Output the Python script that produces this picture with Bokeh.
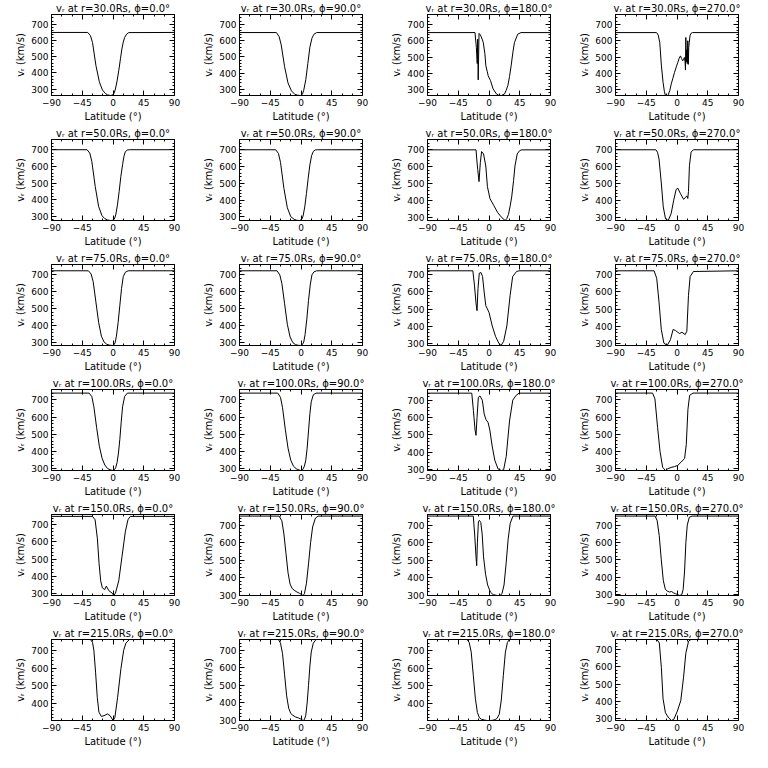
from bokeh.plotting import figure
from bokeh.layouts import gridplot
from bokeh.models import Range1d, FixedTicker, LinearAxis, CustomJSTickFormatter
from bokeh.embed import file_html
from bokeh.resources import INLINE

radii = [30.0, 50.0, 75.0, 100.0, 150.0, 215.0]
phis = [0.0, 90.0, 180.0, 270.0]
x_ticks = [-90, -45, 0, 45, 90]
y_ticks = [300, 400, 500, 600, 700]

# ---- r = 30 Rs ----
lat_30_0 = [-90, -37, -33, -30, -25, -20, -15.5, -11, -8, -4, -1, 1.5, 3.5, 6, 8.5, 11, 13, 15, 17, 20, 23, 90]
v_30_0 = [650, 650, 630, 588, 446, 345, 294, 272, 264, 260, 262, 274, 300, 350, 416, 490, 548, 590, 619, 640, 649, 650]
lat_30_90 = [-90, -36, -32, -29, -24, -19, -14, -9, -5, -1, 2, 4, 7, 10, 13, 16, 19, 23, 90]
v_30_90 = [650, 650, 625, 575, 440, 340, 292, 270, 265, 263, 270, 295, 360, 460, 560, 615, 640, 650, 650]
lat_30_180 = [-90, -20.5, -18.5, -17.2, -16.6, -15.8, -14.6, -12.5, -10, -8.4, -6, -4.6, -2.5, -1.2, 2.2, 6, 10.8, 14, 18, 22.8, 25, 27.6, 30, 32.4, 35, 37.2, 42, 46.8, 90]
v_30_180 = [650, 650, 560, 460, 610, 360, 645, 635, 610, 590, 520, 446, 410, 385, 355, 304, 274, 266, 264, 274, 295, 325, 380, 446, 530, 588, 640, 650, 650]
lat_30_270 = [-90, -30, -27.5, -25.2, -22.8, -20.4, -18.5, -17, -13.2, -10.5, -8.4, -6, -3.6, -1, 1.2, 3, 5, 6.8, 8.4, 9.6, 10.8, 11.8, 12.4, 12.9, 13.6, 14.3, 15, 15.8, 16.5, 17.2, 18, 19, 20.4, 22.8, 90]
v_30_270 = [650, 650, 635, 588, 446, 345, 290, 264, 264, 295, 335, 370, 406, 440, 467, 490, 507, 490, 477, 485, 497, 470, 420, 620, 470, 545, 460, 600, 455, 560, 590, 630, 645, 650, 650]

# ---- r = 50 Rs ----
lat_50_0 = [-90, -38, -34, -31, -26, -21, -16, -12, -8, -4, -1, 2, 4, 6.5, 9, 11.5, 14, 16, 18, 21, 24, 90]
v_50_0 = [700, 700, 680, 630, 480, 360, 305, 288, 280, 277, 278, 285, 310, 370, 450, 540, 610, 660, 688, 698, 700, 700]
lat_50_90 = [-90, -37, -33, -30, -25, -20, -15, -10, -6, -2, 1, 3, 5.5, 8, 10.5, 13, 15.5, 18, 21, 24, 90]
v_50_90 = [700, 700, 678, 625, 470, 355, 302, 286, 280, 279, 285, 305, 360, 440, 530, 610, 665, 690, 699, 700, 700]
lat_50_180 = [-90, -19, -17.8, -16.5, -14.6, -12.7, -10.8, -8, -4.7, -2.3, 1.5, 7.2, 12.8, 19, 23.7, 26, 28.5, 31, 33.2, 36, 38, 41.3, 45, 48, 90]
v_50_180 = [700, 700, 640, 584, 513, 625, 690, 676, 605, 483, 412, 371, 330, 300, 284, 295, 320, 370, 422, 520, 605, 676, 696, 700, 700]
lat_50_270 = [-90, -31, -28.5, -26.3, -23, -20.1, -16.8, -12.9, -8.6, -4.8, -1.4, 1, 4.8, 9.6, 12, 14.4, 15.8, 16.8, 18.2, 20.6, 24, 90]
v_50_270 = [700, 700, 685, 645, 503, 361, 290, 280, 320, 401, 462, 473, 442, 406, 415, 426, 411, 452, 605, 686, 700, 700]

# ---- r = 75 Rs ----
lat_75_0 = [-90, -36, -32, -29, -25, -21, -17, -13, -9, -5, -1, 1, 3, 5, 7.5, 10, 12.5, 15, 18, 22, 90]
v_75_0 = [724, 724, 705, 660, 540, 420, 340, 305, 292, 287, 285, 288, 300, 340, 420, 520, 620, 690, 715, 724, 724]
lat_75_90 = [-90, -35, -31, -28, -24, -20, -16, -12, -8, -4, 0, 2, 4, 6, 8.5, 11, 13.5, 16, 19, 23, 90]
v_75_90 = [724, 724, 700, 650, 530, 410, 335, 302, 290, 286, 285, 290, 305, 350, 440, 550, 640, 700, 718, 724, 724]
lat_75_180 = [-90, -23.6, -21.3, -18.9, -17.5, -16.1, -14.2, -11.8, -9.4, -7.1, -4.7, -2.3, 0, 4.8, 9.5, 14.3, 17.6, 21.4, 26.1, 30.9, 34.6, 40.3, 44, 90]
v_75_180 = [724, 724, 640, 530, 490, 620, 710, 714, 690, 600, 520, 500, 480, 400, 340, 300, 286, 310, 400, 580, 690, 720, 724, 724]
lat_75_270 = [-90, -33.5, -29.7, -26.3, -23, -19.2, -14.4, -9.6, -5.7, -2.4, 1, 3.8, 7.2, 12, 14.4, 16.8, 19.2, 24, 90]
v_75_270 = [724, 724, 680, 540, 380, 300, 286, 320, 380, 374, 364, 356, 364, 350, 370, 580, 690, 720, 724]

# ---- r = 100 Rs ----
lat_100_0 = [-90, -35, -31, -28, -24, -20, -16, -12, -8, -4, 0, 2, 4, 6, 8, 10, 12, 14, 17, 21, 90]
v_100_0 = [740, 740, 720, 660, 540, 430, 360, 320, 300, 292, 288, 292, 305, 335, 390, 470, 570, 660, 720, 740, 740]
lat_100_90 = [-90, -34, -30, -27, -23, -19, -15, -11, -7, -3, 0, 2.5, 5, 7, 9, 11, 13, 15, 18, 22, 90]
v_100_90 = [740, 740, 715, 655, 530, 420, 350, 315, 300, 293, 290, 295, 315, 350, 420, 520, 620, 690, 730, 740, 740]
lat_100_180 = [-90, -25.2, -22.8, -20.4, -19, -17.5, -15.6, -13.2, -9.8, -7, -4.6, -1.2, 1.2, 4.6, 8.4, 13.2, 18, 21.4, 25.2, 30, 34.8, 39.6, 44, 90]
v_100_180 = [740, 740, 640, 528, 498, 600, 716, 724, 700, 620, 590, 570, 528, 437, 356, 305, 296, 300, 377, 580, 700, 727, 740, 740]
lat_100_270 = [-90, -35.8, -32.3, -28.4, -24.9, -21, -17, -13.6, -8.6, -3.7, 1.2, 6.2, 11.1, 13.6, 16, 18.5, 23.4, 90]
v_100_270 = [740, 740, 706, 540, 400, 306, 287, 297, 305, 310, 317, 337, 357, 440, 645, 727, 740, 740]

# ---- r = 150 Rs ----
lat_150_0 = [-90, -30, -26.2, -22.8, -20.4, -18, -15.6, -12.2, -9.8, -6, -1.2, 1.2, 3.6, 8.4, 13.2, 18, 21.9, 25.2, 90]
v_150_0 = [750, 750, 730, 618, 474, 372, 331, 320, 341, 314, 300, 286, 300, 372, 515, 659, 730, 750, 750]
lat_150_90 = [-90, -32, -28, -25, -22, -19, -16, -13, -10, -6, -2, 1, 3, 5, 8, 11, 14, 17, 21, 25, 90]
v_150_90 = [752, 752, 725, 650, 540, 430, 365, 340, 330, 320, 312, 305, 300, 310, 370, 480, 600, 690, 740, 752, 752]
lat_150_180 = [-90, -23, -21, -19, -18, -17, -15.5, -14, -12, -10, -8, -5, -2, 2, 6, 12, 16, 19, 22, 25, 28, 31, 35, 90]
v_150_180 = [752, 752, 650, 520, 470, 600, 720, 728, 715, 650, 520, 420, 360, 320, 305, 300, 300, 310, 360, 480, 620, 710, 752, 752]
lat_150_270 = [-90, -32, -29, -26, -23, -20, -17, -14, -11, -8, -5, -2, 1, 4, 7, 9, 11, 13, 15, 18, 22, 90]
v_150_270 = [752, 752, 725, 640, 500, 380, 330, 320, 315, 318, 310, 305, 300, 295, 300, 330, 430, 600, 700, 745, 752, 752]

# ---- r = 215 Rs ----
lat_215_0 = [-90, -33, -30, -28, -25.5, -23, -20.6, -17.1, -13.2, -8.2, -4.2, 0.2, 2.7, 6.7, 11.6, 15.6, 19, 24, 90]
v_215_0 = [761, 761, 745, 700, 577, 433, 351, 327, 331, 341, 331, 304, 321, 433, 597, 700, 741, 761, 761]
lat_215_90 = [-90, -33, -30, -27, -24, -21, -18, -15, -12, -8, -4, 0, 3, 5, 7, 9, 11, 13, 15, 18, 22, 90]
v_215_90 = [761, 761, 740, 680, 560, 440, 370, 340, 330, 320, 315, 308, 300, 305, 330, 400, 500, 610, 690, 740, 761, 761]
lat_215_180 = [-90, -32, -29, -26, -23, -20, -17, -14, -11, -7, -3, 1, 5, 9, 12, 15, 18, 21, 24, 27, 30, 90]
v_215_180 = [761, 761, 745, 690, 560, 430, 350, 320, 312, 308, 305, 305, 306, 310, 318, 340, 420, 560, 690, 745, 761, 761]
lat_215_270 = [-90, -29.3, -25.9, -22.9, -20.4, -16.9, -12, -8, -4.5, 0.5, 5.5, 9.5, 12.9, 16.9, 20.4, 90]
v_215_270 = [761, 761, 741, 597, 413, 331, 300, 286, 294, 341, 402, 536, 680, 751, 761, 761]

panels = [
    [(lat_30_0, v_30_0), (lat_30_90, v_30_90), (lat_30_180, v_30_180), (lat_30_270, v_30_270)],
    [(lat_50_0, v_50_0), (lat_50_90, v_50_90), (lat_50_180, v_50_180), (lat_50_270, v_50_270)],
    [(lat_75_0, v_75_0), (lat_75_90, v_75_90), (lat_75_180, v_75_180), (lat_75_270, v_75_270)],
    [(lat_100_0, v_100_0), (lat_100_90, v_100_90), (lat_100_180, v_100_180), (lat_100_270, v_100_270)],
    [(lat_150_0, v_150_0), (lat_150_90, v_150_90), (lat_150_180, v_150_180), (lat_150_270, v_150_270)],
    [(lat_215_0, v_215_0), (lat_215_90, v_215_90), (lat_215_180, v_215_180), (lat_215_270, v_215_270)],
]

vmax = max(max(v) for row in panels for (_, v) in row)
FONT = "DejaVu Sans"


def style_axis(ax, show_labels):
    ax.axis_line_color = None
    ax.major_tick_in = 5
    ax.major_tick_out = 0
    ax.minor_tick_in = 2
    ax.minor_tick_out = 0
    ax.major_tick_line_color = "black"
    ax.minor_tick_line_color = "black"
    ax.major_label_text_font = FONT
    ax.axis_label_text_font = FONT
    ax.axis_label_text_font_style = "normal"
    ax.major_label_text_color = "black"
    ax.axis_label_text_color = "black"
    ax.major_label_text_font_size = "9px"
    if show_labels:
        ax.axis_label_text_font_size = "10px"
        ax.major_label_standoff = 3
        ax.axis_label_standoff = 2
    else:
        ax.formatter = CustomJSTickFormatter(code="return '';")
        ax.major_label_standoff = 0


figs = []
for i, r in enumerate(radii):
    for j, phi in enumerate(phis):
        lat, v = panels[i][j]
        xt = FixedTicker(ticks=x_ticks, minor_ticks=list(range(-90, 91, 15)))
        yt = FixedTicker(ticks=y_ticks, minor_ticks=list(range(200, 801, 20)))
        p = figure(width=188, height=125, output_backend="svg", toolbar_location=None,
                   x_range=Range1d(-90, 90), y_range=Range1d(min(v), vmax),
                   min_border_left=51, min_border_right=14, min_border_top=12,
                   min_border_bottom=30)
        p.line(lat, v, line_color="black", line_width=1)
        p.grid.visible = False
        p.outline_line_color = "black"
        p.outline_line_width = 1
        p.background_fill_color = "white"
        p.border_fill_color = "white"
        p.title.text = f"v\u1d63 at r={r:.1f}Rs, \u03d5={phi:.1f}\u00b0"
        p.title.align = "center"
        p.title.text_font = FONT
        p.title.text_font_size = "10px"
        p.title.text_font_style = "normal"
        p.title.text_color = "black"
        p.title.standoff = 1
        p.xaxis.ticker = xt
        p.yaxis.ticker = yt
        p.xaxis.axis_label = "Latitude (\u00b0)"
        p.yaxis.axis_label = "v\u1d63 (km/s)"
        style_axis(p.xaxis[0], True)
        style_axis(p.yaxis[0], True)
        top = LinearAxis(ticker=xt)
        right = LinearAxis(ticker=yt)
        style_axis(top, False)
        style_axis(right, False)
        p.add_layout(top, "above")
        p.add_layout(right, "right")
        figs.append(p)

grid = gridplot(figs, ncols=4, toolbar_location=None)
open("out.html", "w").write(file_html(grid, INLINE))
